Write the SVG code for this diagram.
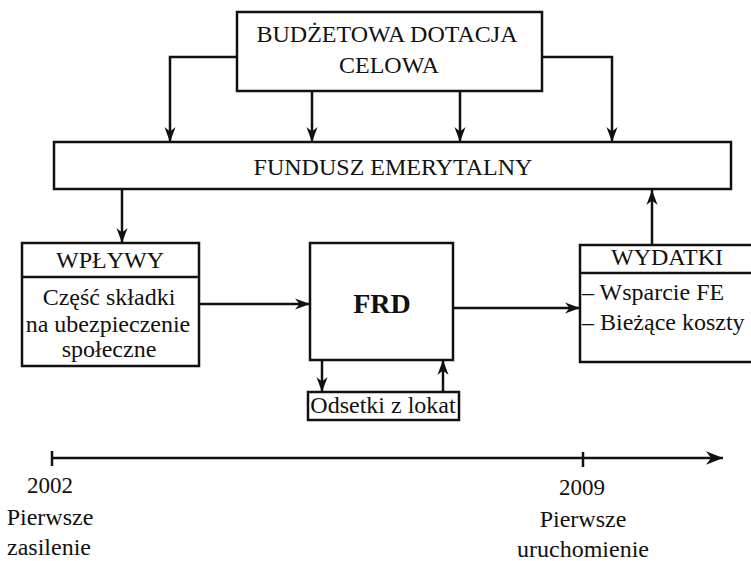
<svg xmlns="http://www.w3.org/2000/svg" width="751" height="561" viewBox="0 0 751 561">
<defs>
<style>
text{font-family:"Liberation Serif","Times New Roman",serif;font-size:24px;fill:#111}
.c{text-anchor:middle}
.b{fill:#fff;stroke:#111;stroke-width:2.5}
.l{fill:none;stroke:#111;stroke-width:2.5}
</style>
<marker id="ah" viewBox="0 0 10 10" refX="10" refY="5" markerWidth="15" markerHeight="15" markerUnits="userSpaceOnUse" orient="auto">
<path d="M0,1.3 L10,5 L0,8.7 L3,5 z" fill="#111"/>
</marker>
<marker id="at" viewBox="0 0 10 10" refX="10" refY="5" markerWidth="17" markerHeight="17" markerUnits="userSpaceOnUse" orient="auto">
<path d="M0,1 L10,5 L0,9 L3,5 z" fill="#111"/>
</marker>
</defs>
<g id="connectors">
<path class="l" d="M237,57 H170 V142" marker-end="url(#ah)"/>
<path class="l" d="M312,91 V142" marker-end="url(#ah)"/>
<path class="l" d="M460,91 V142" marker-end="url(#ah)"/>
<path class="l" d="M542,57 H612 V142" marker-end="url(#ah)"/>
<path class="l" d="M122,189 V243" marker-end="url(#ah)"/>
<path class="l" d="M652,245 V190" marker-end="url(#ah)"/>
<path class="l" d="M199,304 H310" marker-end="url(#ah)"/>
<path class="l" d="M453,308 H580" marker-end="url(#ah)"/>
<path class="l" d="M322,360 V392" marker-end="url(#ah)"/>
<path class="l" d="M443,392 V360" marker-end="url(#ah)"/>
</g>
<g id="budzet">
<rect class="b" x="237" y="12" width="305" height="79"/>
<text class="c" x="387" y="42">BUDŻETOWA DOTACJA</text>
<text class="c" x="389" y="73">CELOWA</text>
</g>
<g id="fundusz">
<rect class="b" x="54" y="142" width="677" height="47"/>
<text class="c" x="393" y="175">FUNDUSZ EMERYTALNY</text>
</g>
<g id="wplywy">
<rect class="b" x="22" y="243" width="177" height="123"/>
<line class="l" x1="22" y1="277" x2="199" y2="277"/>
<text class="c" x="110" y="268">WPŁYWY</text>
<text class="c" x="109" y="305">Część składki</text>
<text class="c" x="108" y="332">na ubezpieczenie</text>
<text class="c" x="109" y="357">społeczne</text>
</g>
<g id="frd">
<rect class="b" x="310" y="243" width="143" height="117"/>
<text class="c" x="382" y="313" style="font-weight:bold;font-size:28px">FRD</text>
</g>
<g id="wydatki">
<rect class="b" x="580" y="245" width="190" height="117"/>
<line class="l" x1="580" y1="273" x2="751" y2="273"/>
<text class="c" x="667" y="265">WYDATKI</text>
<text x="582" y="300">– Wsparcie FE</text>
<text x="582" y="330">– Bieżące koszty</text>
</g>
<g id="odsetki">
<rect class="b" x="308" y="392" width="151" height="28"/>
<text class="c" x="383" y="413">Odsetki z lokat</text>
</g>
<g id="timeline">
<path class="l" d="M52,458 H723" marker-end="url(#at)"/>
<line class="l" x1="52" y1="451" x2="52" y2="466" stroke-width="2"/>
<line class="l" x1="583" y1="452" x2="583" y2="467" stroke-width="2"/>
<text class="c" x="50" y="493" style="font-size:23px">2002</text>
<text class="c" x="50" y="525">Pierwsze</text>
<text class="c" x="49" y="555">zasilenie</text>
<text class="c" x="582" y="495" style="font-size:23px">2009</text>
<text class="c" x="583" y="527">Pierwsze</text>
<text class="c" x="583" y="557">uruchomienie</text>
</g>
</svg>
